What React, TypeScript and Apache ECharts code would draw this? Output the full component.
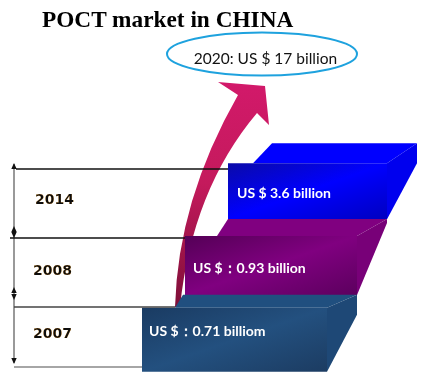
import React, { useEffect, useRef } from 'react';
import * as echarts from 'echarts';

// ---- data ----
const chartTitle = 'POCT market in CHINA';
const years = ['2014', '2008', '2007'];
const marketValues = [3.6, 0.93, 0.71];
const valueLabels = ['US $ 3.6 billion', 'US $：0.93 billion', 'US $：0.71 billiom'];
const forecastLabel = '2020: US $ 17 billion';

// ---- layout (axis units = pixels on the hidden x axis) ----
const frontLeft = [228, 185, 142];
const frontRight = [387, 357, 327];
const topFrontLeft = [253, 217, 175];
const backLeft = [272, 228, 183];
const depthX = 30;
const depthY = [20, 17, 13];
const frontHalf = [28, 29.5, 32];
const sideDrop = [20, 4, 20];
const valueDx = [9, 8, 7];
const valueDy = [1, 1.5, -9];
const yearX = [35, 33, 33];
const yearDy = [8, 4.5, -7];

const topColors = ['#0000ff', '#800080', '#204f7f'];
const sideColors = ['#0000ee', '#780078', '#1e4876'];
const frontColors = [
  ['#0a0aa8', '#0000ff', '#0000c0'],
  ['#540056', '#800080', '#5c005e'],
  ['#1a3b62', '#23507f', '#1c3c62'],
];

const arrowD = 'M175 307 Q178 200 238 95 L218 82 L265 86 L269 125 L257 113 Q192 190 180 307 Z';
let registered = false;

export default function App() {
  const ref = useRef<HTMLDivElement>(null);
  useEffect(() => {
    if (!registered) {
      echarts.graphic.registerShape('bigArrow', echarts.graphic.extendPath(arrowD, {}) as any);
      registered = true;
    }
    const chart = echarts.init(ref.current!, null, { renderer: 'svg' });

    const renderItem = (params: any, api: any) => {
      const i = api.value(0) as number;
      const cy = api.coord([0, i])[1];
      const X = (v: number) => api.coord([v, i])[0];
      const ft = cy - frontHalf[i];
      const fb = cy + frontHalf[i];
      const bt = ft - depthY[i];
      const fl = X(frontLeft[i]);
      const fr = X(frontRight[i]);
      const tfl = X(topFrontLeft[i]);
      const bl = X(backLeft[i]);
      const br = X(frontRight[i] + depthX);
      const fc = frontColors[i];
      return {
        type: 'group',
        children: [
          {
            type: 'polygon',
            shape: { points: [[tfl, ft], [bl, bt], [br, bt], [fr, ft]] },
            style: { fill: topColors[i] },
          },
          {
            type: 'polygon',
            shape: { points: [[fr, ft], [br, bt], [br, bt + sideDrop[i]], [fr, fb]] },
            style: { fill: sideColors[i] },
          },
          {
            type: 'rect',
            shape: { x: fl, y: ft, width: fr - fl, height: fb - ft },
            style: {
              fill: new echarts.graphic.LinearGradient(0, 0, 1, 1, [
                { offset: 0, color: fc[0] },
                { offset: 0.5, color: fc[1] },
                { offset: 1, color: fc[2] },
              ]),
            },
          },
          {
            type: 'text',
            x: fl + valueDx[i],
            y: cy + valueDy[i],
            style: {
              text: valueLabels[i],
              fill: '#ffffff',
              font: 'bold 14px Lato',
              verticalAlign: 'middle',
              align: 'left',
            },
          },
          {
            type: 'text',
            x: yearX[i],
            y: cy + yearDy[i],
            style: {
              text: years[i],
              fill: '#111111',
              font: 'bold 14px "DejaVu Sans"',
              verticalAlign: 'middle',
              align: 'left',
              textShadowColor: 'rgba(230,160,40,0.55)',
              textShadowBlur: 1.5,
            },
          },
        ],
      };
    };

    const hLine = (y: number, x1: number, x2: number, color: string) => ({
      type: 'line',
      z: 5,
      shape: { x1, y1: y, x2, y2: y },
      style: { stroke: color, lineWidth: 1.3 },
    });
    const tri = (tipY: number, up: boolean) => ({
      type: 'polygon',
      z: 5,
      shape: {
        points: up
          ? [[14, tipY], [11.3, tipY + 6], [16.7, tipY + 6]]
          : [[14, tipY], [11.3, tipY - 6], [16.7, tipY - 6]],
      },
      style: { fill: '#111' },
    });

    chart.setOption({
      animation: false,
      grid: { left: 0, right: 0, top: 154, bottom: 7 },
      xAxis: { type: 'value', min: 0, max: 426, show: false },
      yAxis: { type: 'category', data: years, inverse: true, show: false },
      series: [
        {
          type: 'custom',
          z: 3,
          renderItem,
          data: years.map((_, i) => [i, marketValues[i]]),
        },
      ],
      graphic: [
        {
          type: 'text',
          x: 42,
          y: 19,
          style: {
            text: chartTitle,
            font: 'bold 23.3px "Liberation Serif"',
            fill: '#000',
            verticalAlign: 'middle',
          },
        },
        {
          type: 'ellipse',
          shape: { cx: 262, cy: 54, rx: 95, ry: 21.5 },
          style: { fill: 'none', stroke: '#1ea2de', lineWidth: 2 },
        },
        {
          type: 'text',
          x: 265.5,
          y: 57.5,
          style: {
            text: forecastLabel,
            font: '15.5px Lato',
            fill: '#111',
            align: 'center',
            verticalAlign: 'middle',
          },
        },
        {
          type: 'bigArrow',
          x: 0,
          y: 0,
          z: 1,
          style: {
            fill: new echarts.graphic.LinearGradient(0, 0, 0, 1, [
              { offset: 0, color: '#d2196a' },
              { offset: 0.45, color: '#c41a5c' },
              { offset: 1, color: '#7e0f38' },
            ]),
          },
        } as any,
        {
          type: 'line',
          z: 5,
          shape: { x1: 14, y1: 164, x2: 14, y2: 363 },
          style: { stroke: '#555', lineWidth: 1.2 },
        },
        hLine(169, 16, 228, '#111'),
        hLine(238, 10, 185, '#111'),
        hLine(307, 14, 175, '#444'),
        hLine(367, 14, 142, '#888'),
        tri(163, true),
        tri(364, false),
        tri(226, true),
        tri(238, false),
        tri(287, true),
        tri(300, false),
      ],
    });
    return () => chart.dispose();
  }, []);
  return <div ref={ref} style={{ position: 'fixed', left: 0, top: 0, width: 426, height: 384 }} />;
}
